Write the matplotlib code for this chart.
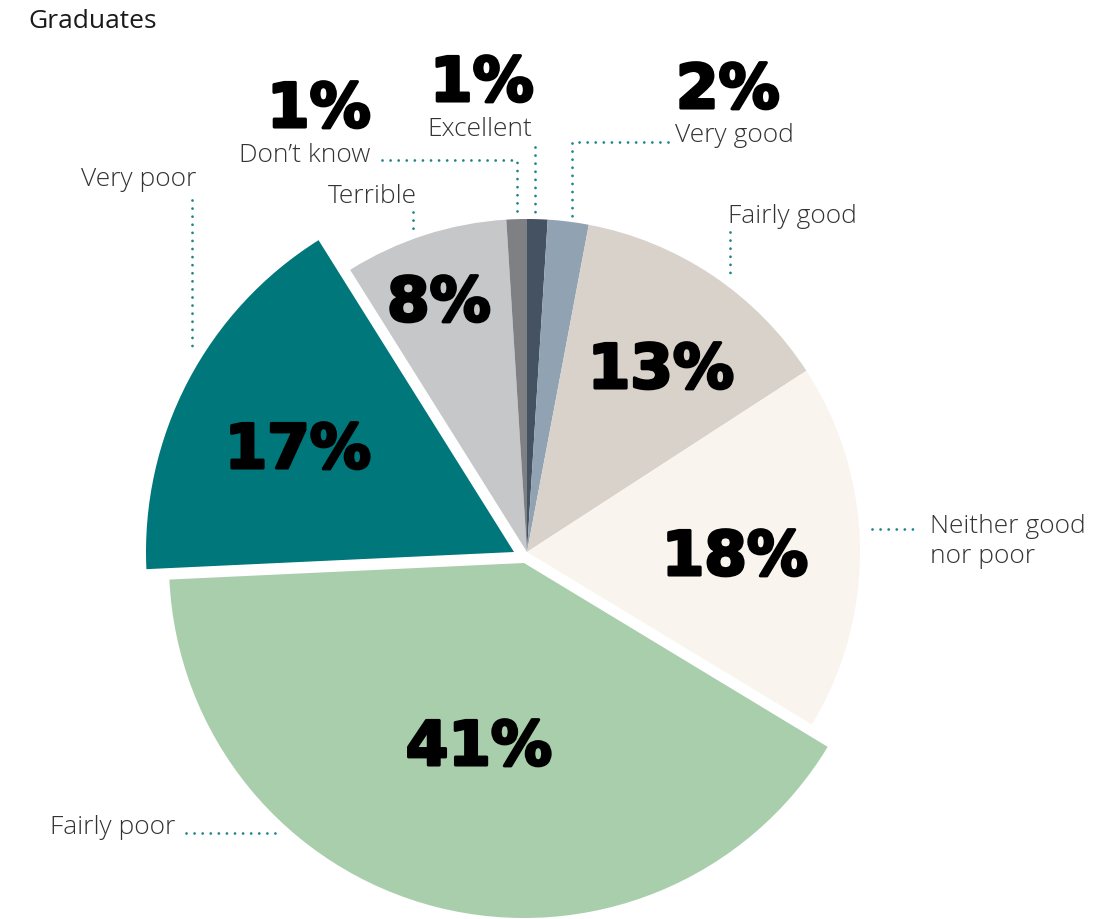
import matplotlib
matplotlib.use("Agg")
import matplotlib.pyplot as plt
import matplotlib.patheffects as pe

# Survey shares, clockwise from 12 o'clock
categories = ["Excellent", "Very good", "Fairly good", "Neither good\nnor poor",
              "Fairly poor", "Very poor", "Terrible", "Don\u2019t know"]
shares = [1, 2, 13, 18, 41, 17, 8, 1]
share_labels = ["1%", "2%", "13%", "18%", "41%", "17%", "8%", "1%"]
colors = ["#455261", "#91a2b2", "#d8d2cb", "#f9f5ee",
          "#a9ceac", "#00777a", "#c6c7c9", "#7e8084"]
title = "Graduates"

W, H = 1116, 919
CX, CY = 527, 552          # pie centre in pixels
R = 333.0                  # base radius in pixels
TEAL = "#1f8389"
TXT = "#333333"
LABEL_FONT = "Open Sans"


def P(x, y):
    """pixel position (origin top-left) -> data coordinates"""
    return (x - CX) / R, (CY - y) / R


fig = plt.figure(figsize=(W / 100, H / 100), dpi=100)
ax = fig.add_axes([0, 0, 1, 1])

wedges, _ = ax.pie(shares, colors=colors, startangle=90, counterclock=False,
                   radius=1.0, wedgeprops=dict(linewidth=0))

# pulled-out slices
fp, vp = wedges[4], wedges[5]
fp.set_center(P(524, 563))
fp.set_radius(355 / R)
vp.set_center(P(514, 552))
vp.set_radius(368 / R)

ax.set_xlim(-CX / R, (W - CX) / R)
ax.set_ylim(-(H - CY) / R, CY / R)
ax.set_aspect("equal")
ax.axis("off")

# percentage labels (centre x, baseline y in pixels)
pct_pos = [(482, 101), (728, 108), (661, 388), (735, 575),
           (479, 765), (298, 468), (439, 321), (319, 127)]
for lab, (x, y) in zip(share_labels, pct_pos):
    ax.text(*P(x, y), lab, ha="center", va="baseline",
            fontsize=44, fontweight="bold", family="DejaVu Sans", color="black",
            path_effects=[pe.withStroke(linewidth=2.2, foreground="black")])

# category labels: (x, baseline y, horizontal alignment)
cat_pos = [(480, 136, "center"), (675, 142, "left"), (728, 223, "left"),
           (930, 533, "left"), (50, 834, "left"), (196, 186, "right"),
           (372, 203, "center"), (370, 162, "right")]
LINE_GAP = 30  # pixels between stacked label lines
for lab, (x, y, ha) in zip(categories, cat_pos):
    for i, line in enumerate(lab.split("\n")):
        ax.text(*P(x, y + i * LINE_GAP), line, ha=ha, va="baseline",
                fontsize=19, family=LABEL_FONT, fontweight="light", color=TXT)

ax.text(*P(28, 28), title, ha="left", va="baseline", fontsize=19,
        family=LABEL_FONT, color="#1a1a1a")


def dotted(pts):
    xs, ys = zip(*[P(x, y) for x, y in pts])
    ax.plot(xs, ys, color=TEAL, lw=2.0, linestyle=(0, (0.01, 2.9)),
            dash_capstyle="round", solid_capstyle="round")


# leader lines
dotted([(382, 160), (517, 160), (517, 214)])     # Don't know
dotted([(535, 147), (535, 214)])                 # Excellent
dotted([(668, 142), (572, 142), (572, 218)])     # Very good
dotted([(730, 232), (730, 280)])                 # Fairly good
dotted([(872, 529), (920, 529)])                 # Neither good nor poor
dotted([(186, 833), (278, 833)])                 # Fairly poor
dotted([(192, 200), (192, 350)])                 # Very poor
dotted([(413, 212), (413, 236)])                 # Terrible

fig.savefig("out.png", dpi=100, facecolor="white")
